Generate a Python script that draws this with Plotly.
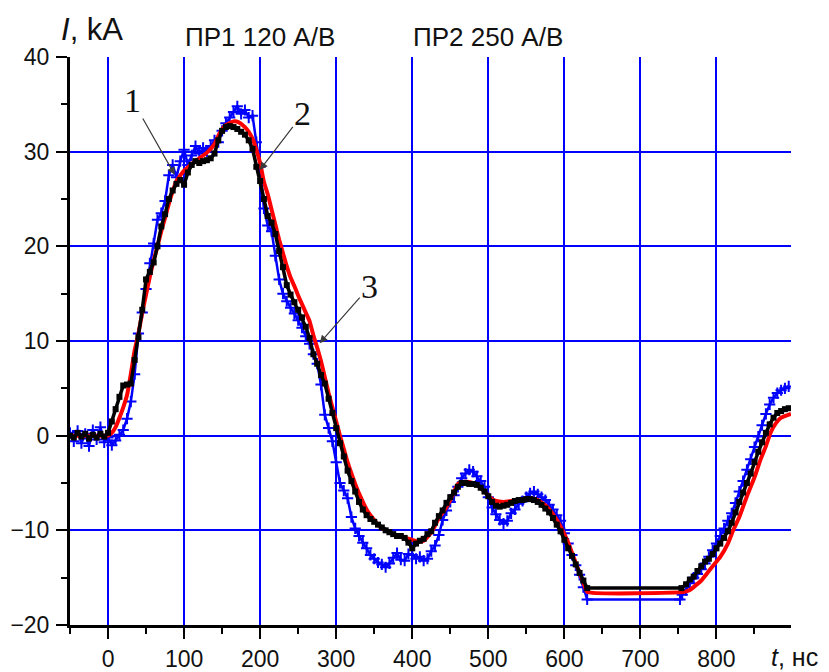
import plotly.graph_objects as go

# ---- measured current waveforms, I (kA) versus t (ns) ----
# curve 1 (blue, noisy probe signal)
t_blue = [-50, -45, -40, -35, -30, -25, -20, -15, -10, -5, 0, 5, 10, 15, 20, 25, 30, 35, 40, 45,
          50, 55, 60, 65, 70, 75, 80, 85, 90, 95, 100, 105, 110, 115, 120, 125, 130, 135, 140, 145,
          150, 155, 160, 165, 170, 175, 180, 185, 190, 195, 200, 205, 210, 215, 220, 225, 230, 235, 240, 245,
          250, 255, 260, 265, 270, 275, 280, 285, 290, 295, 300, 305, 310, 315, 320, 325, 330, 335, 340, 345,
          350, 355, 360, 365, 370, 375, 380, 385, 390, 395, 400, 405, 410, 415, 420, 425, 430, 435, 440, 445,
          450, 455, 460, 465, 470, 475, 480, 485, 490, 495, 500, 505, 510, 515, 520, 525, 530, 535, 540, 545,
          550, 555, 560, 565, 570, 575, 580, 585, 590, 595, 600, 605, 610, 615, 620, 625, 630, 752, 755, 760,
          765, 770, 775, 780, 785, 790, 795, 800, 805, 810, 815, 820, 825, 830, 835, 840, 845, 850, 855, 860,
          865, 870, 875, 880, 885, 890, 895]
i_blue = [0.3, -0.6, 0.5, -0.8, 0.2, -1.1, 0.6, -0.4, 0.9, -0.7, -0.2, -1.0, -0.5, 0.1, 0.6, 1.8, 3.6, 6.5, 10.8, 13.0,
          15.5, 18.2, 20.3, 22.8, 23.5, 24.8, 27.5, 28.6, 27.3, 29.0, 30.2, 28.6, 29.6, 30.6, 29.8, 30.4, 30.0, 30.6, 31.2, 31.0,
          32.2, 33.0, 33.6, 34.2, 34.8, 34.0, 34.4, 33.6, 33.8, 31.0, 28.4, 24.0, 22.2, 21.6, 19.0, 16.5, 15.0, 14.2, 13.5, 12.9,
          12.2, 11.4, 10.5, 9.7, 8.6, 7.6, 5.4, 2.2, 0.8, -0.6, -2.8, -5.0, -5.8, -6.6, -8.6, -9.8, -10.6, -11.3, -11.9, -12.6,
          -13.0, -13.4, -13.6, -13.9, -13.5, -12.9, -12.4, -13.1, -13.2, -12.5, -12.6, -13.0, -12.8, -13.2, -13.0, -12.2, -11.6, -10.5, -8.9, -7.9,
          -7.0, -6.3, -5.4, -4.5, -4.0, -3.6, -3.8, -4.3, -4.8, -5.4, -6.5, -7.6, -8.3, -8.9, -9.3, -9.0, -8.2, -7.8, -7.2, -6.9,
          -6.5, -6.1, -5.9, -6.2, -6.5, -6.8, -7.3, -7.8, -8.4, -9.0, -10.3, -11.4, -12.6, -13.7, -14.7, -16.0, -17.3, -17.3, -16.8, -16.3,
          -15.6, -15.0, -14.6, -14.1, -13.5, -12.8, -12.1, -11.4, -10.6, -9.8, -9.0, -8.2, -7.1, -5.9, -4.8, -3.6, -2.5, -1.2, -0.1, 1.1,
          2.3, 3.3, 4.0, 4.5, 4.8, 5.0, 5.2]

# curve 2 (red, smooth calculated current)
t_red = [-50, -20, 0, 5, 10, 15, 20, 25, 30, 35, 40, 45, 50, 55, 60, 65, 70, 75, 80, 85,
         90, 95, 100, 110, 120, 130, 140, 147, 155, 165, 172, 180, 185, 191, 195, 200, 205, 210, 215, 220,
         225, 230, 235, 240, 245, 250, 255, 260, 265, 270, 275, 280, 285, 290, 295, 300, 305, 310, 315, 320,
         325, 330, 335, 340, 345, 350, 355, 360, 370, 380, 390, 400, 408, 415, 420, 426, 430, 435, 443, 450,
         460, 467, 475, 485, 495, 502, 510, 520, 530, 540, 555, 565, 577, 585, 595, 605, 612, 620, 625, 630,
         758, 765, 770, 780, 787, 795, 805, 815, 822, 830, 840, 850, 858, 865, 871, 878, 885, 898]
i_red = [0.0, 0.0, 0.0, 0.3, 0.9, 1.9, 3.0, 4.3, 6.5, 9.0, 10.8, 13.0, 14.9, 16.8, 18.5, 20.0, 21.6, 23.0, 24.5, 25.8,
         26.9, 27.5, 28.0, 28.7, 29.3, 29.9, 30.8, 32.0, 32.8, 33.2, 33.1, 32.6, 32.1, 31.2, 30.2, 28.8, 26.8, 25.5, 23.9, 22.3,
         20.7, 19.3, 17.9, 16.7, 15.8, 14.8, 13.9, 13.0, 12.1, 10.6, 9.3, 7.9, 6.2, 4.5, 3.0, 1.5, 0.0, -1.4, -2.8, -4.0,
         -5.1, -6.1, -7.0, -7.8, -8.4, -8.9, -9.4, -9.8, -10.2, -10.6, -10.8, -11.0, -11.2, -11.1, -10.7, -10.1, -9.5, -8.7, -7.8, -6.8,
         -5.1, -4.9, -4.9, -5.2, -5.9, -6.5, -6.9, -7.0, -6.9, -6.8, -6.6, -6.8, -7.5, -8.3, -9.6, -11.3, -12.8, -14.5, -15.5, -16.5,
         -16.5, -16.3, -16.0, -15.3, -14.6, -13.8, -12.8, -11.4, -10.0, -8.6, -6.4, -4.4, -2.5, -1.1, 0.3, 1.3, 1.9, 2.3]

# curve 3 (black, second probe)
t_black = [-50, -45, -40, -35, -30, -25, -20, -15, -10, -5, 0, 5, 10, 15, 20, 25, 30, 35, 40, 45,
           50, 55, 60, 65, 70, 75, 80, 85, 90, 95, 100, 105, 110, 115, 120, 125, 130, 135, 140, 145,
           150, 155, 160, 165, 170, 175, 180, 185, 190, 195, 200, 205, 210, 215, 220, 225, 230, 235, 240, 245,
           250, 255, 260, 265, 270, 275, 280, 285, 290, 295, 300, 305, 310, 315, 320, 325, 330, 335, 340, 345,
           350, 355, 360, 365, 370, 375, 380, 385, 390, 395, 400, 405, 410, 415, 420, 425, 430, 435, 440, 445,
           450, 455, 460, 465, 470, 475, 480, 485, 490, 495, 500, 505, 510, 515, 520, 525, 530, 535, 540, 545,
           550, 555, 560, 565, 570, 575, 580, 585, 590, 595, 600, 605, 610, 615, 620, 625, 630, 754, 760, 765,
           770, 775, 780, 785, 790, 795, 800, 805, 810, 815, 820, 825, 830, 835, 840, 845, 850, 855, 860, 865,
           870, 875, 880, 885, 890, 895]
i_black = [0.0, -0.2, 0.3, -0.1, 0.2, -0.3, 0.1, -0.2, 0.2, -0.1, 0.3, 1.5, 2.8, 4.1, 5.3, 5.4, 5.5, 8.0, 10.4, 13.3,
           16.5, 17.3, 18.3, 20.0, 22.1, 23.4, 25.0, 25.9, 26.6, 27.0, 26.5, 27.8, 28.6, 29.0, 28.8, 29.0, 29.1, 29.3, 29.8, 31.2,
           32.2, 32.6, 32.7, 32.6, 32.4, 32.1, 31.8, 31.2, 30.3, 28.4, 26.9, 25.0, 23.2, 22.5, 21.3, 19.5, 17.8, 15.9, 14.9, 14.1,
           13.3, 12.5, 11.5, 10.3, 8.6, 7.6, 6.4, 5.5, 3.9, 2.4, 0.8, -0.8, -2.2, -3.7, -4.8, -5.9, -7.0, -7.8, -8.4, -8.8,
           -9.1, -9.4, -9.7, -10.0, -10.2, -10.4, -10.6, -10.6, -10.8, -11.3, -11.9, -11.4, -11.1, -10.9, -10.4, -10.1, -9.2, -8.5, -7.9, -7.1,
           -6.5, -6.0, -5.4, -5.0, -5.0, -5.1, -5.1, -5.2, -5.5, -5.9, -6.4, -7.0, -7.4, -7.5, -7.4, -7.3, -7.1, -6.9, -6.8, -6.8,
           -6.7, -6.7, -6.8, -7.0, -7.3, -7.7, -8.1, -8.7, -9.4, -10.1, -11.0, -11.9, -12.7, -13.6, -14.5, -15.3, -16.1, -16.1, -15.7, -15.2,
           -14.9, -14.3, -13.8, -13.3, -13.0, -12.5, -11.9, -11.4, -10.8, -10.1, -9.2, -8.1, -7.0, -6.0, -5.0, -4.0, -2.8, -1.7, -0.7, 0.3,
           1.2, 1.9, 2.4, 2.6, 2.8, 2.9]

# axis settings
x_range = [-50, 898]
y_range = [-20, 40]

# curve numbering labels: (text, t, I at arrow tip, text offset in px)
curve_labels = [("1", 87.8, 27.55, -42, -74),
                ("2", 199.6, 28.07, 43, -56),
                ("3", 278.3, 9.77, 50, -57)]

SANS = "Liberation Sans, Arial, sans-serif"
SERIF = "Liberation Serif, Times New Roman, serif"
BLUE = "#0000ff"

fig = go.Figure()

fig.add_trace(go.Scatter(
    x=t_blue, y=i_blue, mode="lines+markers",
    line=dict(color=BLUE, width=2.5),
    marker=dict(symbol="cross-thin", size=8, color=BLUE, line=dict(color=BLUE, width=2)),
    showlegend=False))
fig.add_trace(go.Scatter(
    x=t_red, y=i_red, mode="lines",
    line=dict(color="#ff0000", width=4, shape="spline", smoothing=0.4),
    showlegend=False))
fig.add_trace(go.Scatter(
    x=t_black, y=i_black, mode="lines+markers",
    line=dict(color="#000000", width=3.5),
    marker=dict(symbol="square", size=6, color="#000000"),
    showlegend=False))

axis_common = dict(
    showline=True, linecolor="#000000", linewidth=3,
    ticks="outside", tickcolor="#000000", tickwidth=2, ticklen=11,
    showgrid=True, gridcolor=BLUE, gridwidth=1.5,
    zeroline=False, mirror=False, automargin=False,
    tickfont=dict(family=SANS, size=23, color="#111111"),
)

fig.update_xaxes(range=x_range, tick0=0, dtick=100,
                 minor=dict(dtick=50, tick0=0, ticks="outside", ticklen=6, tickwidth=2,
                            tickcolor="#000000", showgrid=False),
                 ticklabelstandoff=0, **axis_common)
fig.update_yaxes(range=y_range, tick0=0, dtick=10,
                 minor=dict(dtick=5, tick0=0, ticks="outside", ticklen=6, tickwidth=2,
                            tickcolor="#000000", showgrid=False),
                 ticklabelstandoff=2, **axis_common)

annotations = []
for text, tx, ty, ax, ay in curve_labels:
    annotations.append(dict(
        x=tx, y=ty, xref="x", yref="y", text=text, showarrow=True,
        ax=ax, ay=ay, axref="pixel", ayref="pixel",
        arrowhead=2, arrowsize=1.3, arrowwidth=1.2, arrowcolor="#3a3a3a", standoff=0,
        font=dict(family=SERIF, size=34, color="#111111")))

# axis captions and probe sensitivities
plot_w, plot_h = 829 - 70 - 38, 672 - 57 - 47
def px(xp):
    return (xp - 70) / plot_w
def py(yp):
    return (672 - 47 - yp) / plot_h

annotations += [
    dict(text="<i>I</i>, kA", x=px(59), y=py(29), xref="paper", yref="paper",
         xanchor="left", yanchor="middle", showarrow=False,
         font=dict(family=SANS, size=31, color="#111111")),
    dict(text="ПР1 120 А/В", x=px(183), y=py(37), xref="paper", yref="paper",
         xanchor="left", yanchor="middle", showarrow=False,
         font=dict(family=SANS, size=26, color="#111111")),
    dict(text="ПР2 250 А/В", x=px(411), y=py(37), xref="paper", yref="paper",
         xanchor="left", yanchor="middle", showarrow=False,
         font=dict(family=SANS, size=26, color="#111111")),
    dict(text="<i>t</i>, нс", x=px(769), y=py(657), xref="paper", yref="paper",
         xanchor="left", yanchor="middle", showarrow=False,
         font=dict(family=SANS, size=25, color="#111111")),
]

fig.update_layout(
    width=829, height=672,
    margin=dict(l=70, r=38, t=57, b=47, pad=0, autoexpand=False),
    paper_bgcolor="white", plot_bgcolor="white",
    annotations=annotations,
    showlegend=False,
)

fig.write_html("out.html", config={"displayModeBar": False})
